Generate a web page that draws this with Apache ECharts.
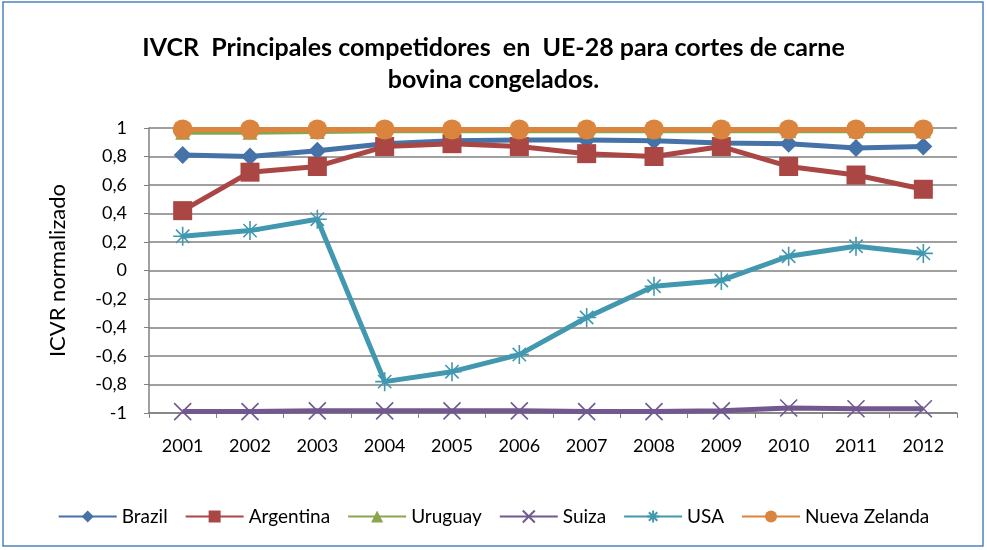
<!DOCTYPE html>
<html>
<head>
<meta charset="utf-8">
<script src="https://cdn.jsdelivr.net/npm/echarts@6/dist/echarts.min.js"></script>
<style>
  html, body { margin: 0; padding: 0; background: #fff; }
  #chart { width: 987px; height: 550px; }
</style>
</head>
<body>
<div id="chart"></div>
<script>
const years = ['2001', '2002', '2003', '2004', '2005', '2006', '2007', '2008', '2009', '2010', '2011', '2012']

const brazil = [0.81, 0.80, 0.84, 0.89, 0.91, 0.915, 0.915, 0.91, 0.895, 0.89, 0.86, 0.87]
const argentina = [0.42, 0.69, 0.73, 0.87, 0.89, 0.87, 0.82, 0.80, 0.87, 0.73, 0.67, 0.57]
const uruguay = [0.97, 0.97, 0.975, 0.98, 0.98, 0.98, 0.98, 0.98, 0.98, 0.98, 0.98, 0.98]
const suiza = [-0.99, -0.99, -0.985, -0.985, -0.985, -0.985, -0.99, -0.99, -0.985, -0.965, -0.97, -0.97]
const usa = [0.24, 0.28, 0.36, -0.78, -0.71, -0.59, -0.33, -0.11, -0.07, 0.10, 0.17, 0.12]
const nuevaZelanda = [0.99, 0.99, 0.99, 0.99, 0.99, 0.99, 0.99, 0.99, 0.99, 0.99, 0.99, 0.99]

const font = 'Lato, "Open Sans", sans-serif'
const xPath = 'path://M0,0L10,10M10,0L0,10'
const starPath = 'path://M5,0L5,10M0,5L10,5M1.5,1.5L8.5,8.5M8.5,1.5L1.5,8.5'

function makeSeries(name, data, color, symbol, size, stroked) {
    return {
        name: name,
        type: 'line',
        data: data,
        symbol: symbol,
        symbolSize: size,
        lineStyle: { color: color, width: 5 },
        itemStyle: stroked
            ? { color: 'rgba(0,0,0,0)', borderColor: color, borderWidth: 1.6 }
            : { color: color },
        emphasis: { disabled: true },
    }
}

const chart = echarts.init(document.getElementById('chart'))

chart.setOption({
    animation: false,
    textStyle: { fontFamily: font },
    graphic: [{
        type: 'rect',
        shape: { x: 3, y: 2, width: 980, height: 544 },
        style: { fill: 'none', stroke: '#4F81BD', lineWidth: 1.5 },
    }],
    title: {
        text: 'IVCR  Principales competidores  en  UE-28 para cortes de carne\nbovina congelados.',
        left: 'center',
        top: 27,
        textStyle: { fontSize: 25, fontWeight: 'bold', color: '#000', lineHeight: 32, fontFamily: font },
    },
    grid: { left: 149, right: 30, top: 128, bottom: 137 },
    legend: {
        bottom: 19,
        left: 'center',
        itemWidth: 58,
        itemHeight: 15,
        itemGap: 17,
        textStyle: { fontSize: 19, color: '#000', fontFamily: font },
        data: ['Brazil', 'Argentina', 'Uruguay', 'Suiza', 'USA', 'Nueva Zelanda'],
    },
    xAxis: [
        {
            type: 'category',
            data: years,
            axisLine: { show: false },
            axisTick: { show: false },
            axisLabel: { fontSize: 18, color: '#000', margin: 24 },
        },
        {
            type: 'category',
            data: years,
            position: 'bottom',
            axisLine: { show: true, onZero: true, lineStyle: { color: '#808080', width: 1.5 } },
            axisTick: { show: true, length: 5, lineStyle: { color: '#808080' } },
            axisLabel: { show: false },
        },
    ],
    yAxis: {
        type: 'value',
        min: -1,
        max: 1,
        interval: 0.2,
        name: 'ICVR normalizado',
        nameLocation: 'middle',
        nameGap: 80,
        nameTextStyle: { fontSize: 22, color: '#000', fontFamily: font },
        axisLine: { show: true, lineStyle: { color: '#808080', width: 1.5 } },
        axisTick: { show: true, length: 5, lineStyle: { color: '#808080' } },
        splitLine: { lineStyle: { color: '#808080', width: 1.5 } },
        axisLabel: {
            fontSize: 18,
            color: '#000',
            margin: 22,
            formatter: v => {
                const r = Math.round(v * 10) / 10
                return (r === 0 ? '0' : String(r)).replace('.', ',')
            },
        },
    },
    series: [
        makeSeries('Brazil', brazil, '#4572A7', 'diamond', 18, false),
        makeSeries('Argentina', argentina, '#AA4643', 'rect', 19, false),
        makeSeries('Uruguay', uruguay, '#89A54E', 'triangle', 15, false),
        makeSeries('Suiza', suiza, '#71588F', xPath, 17, true),
        makeSeries('USA', usa, '#4198AF', starPath, 19, true),
        makeSeries('Nueva Zelanda', nuevaZelanda, '#DB843D', 'circle', 20, false),
    ],
})
</script>
</body>
</html>
